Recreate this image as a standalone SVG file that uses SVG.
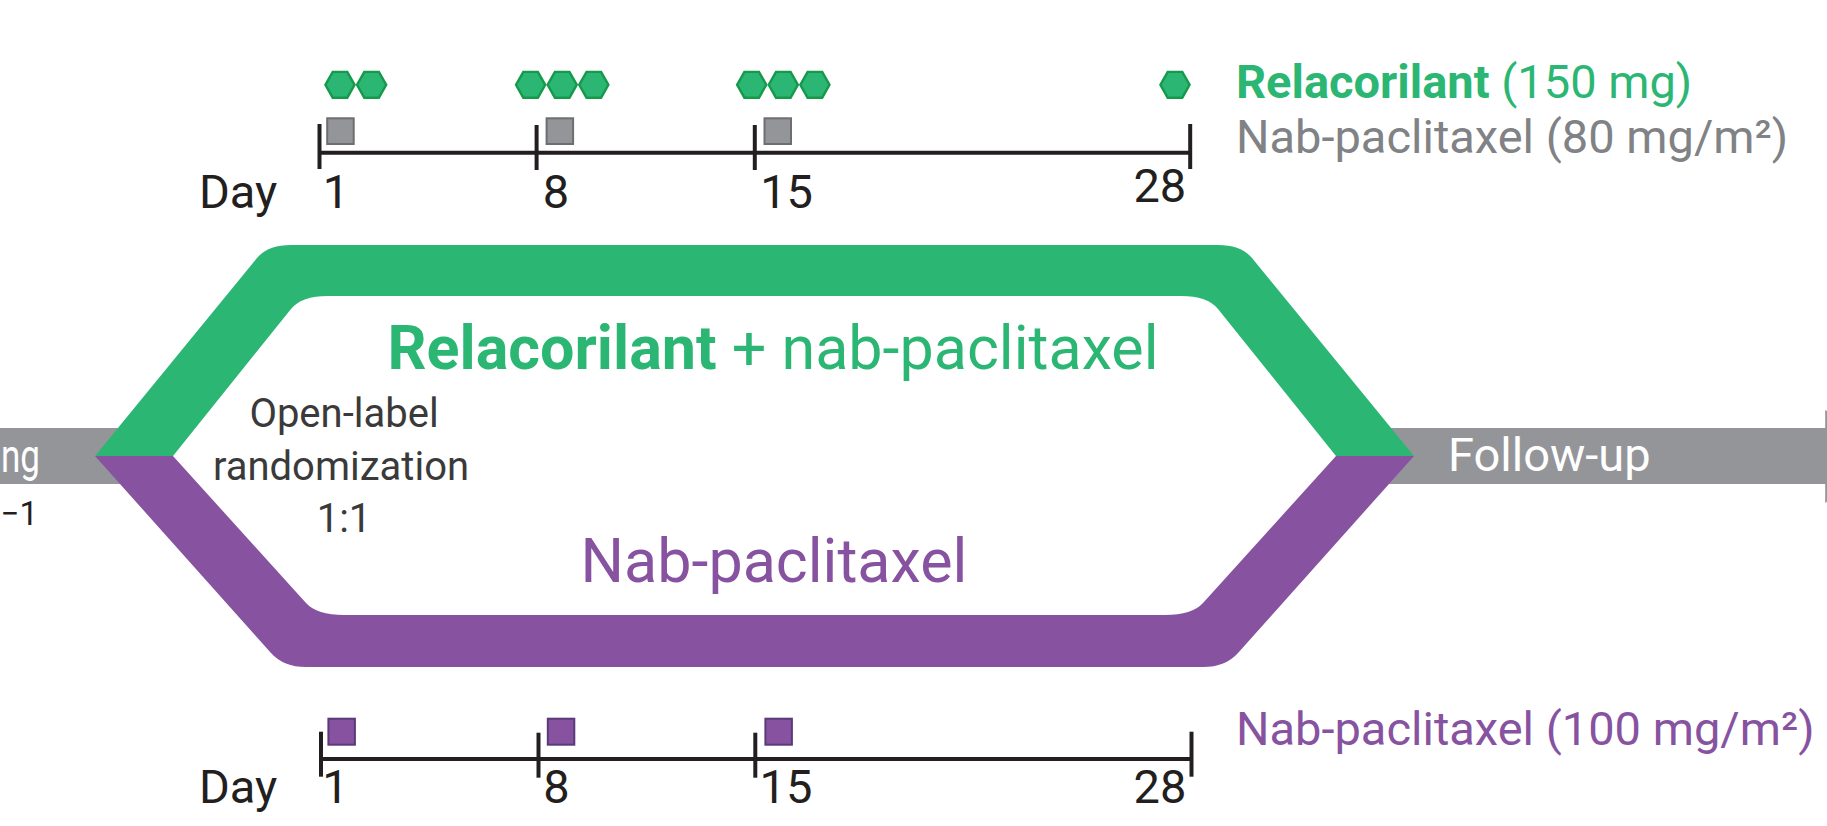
<svg xmlns="http://www.w3.org/2000/svg" xmlns:xlink="http://www.w3.org/1999/xlink" width="1827" height="826" viewBox="0 0 1827 826">
  <defs>
    <style>
      text { font-family: Roboto, "Liberation Sans", Arial, sans-serif; }
      .day { font-size: 47px; fill: #231f20; }
      .legend { font-size: 47px; }
      .big { font-size: 61px; }
      .rand { font-size: 40px; fill: #3a3a3a; }
      .bar { fill: #949599; }
      .bartext { font-size: 47px; fill: #ffffff; }
      .axis { stroke: #231f20; stroke-width: 4; fill: none; }
      .hexdose { fill: #2cb673; stroke: #159a4c; stroke-width: 2.4; stroke-linejoin: miter; }
      .sqgray { fill: #939598; stroke: #6d6e71; stroke-width: 2; }
      .sqpurple { fill: #8753a1; stroke: #5b3a78; stroke-width: 2; }
      .green { fill: #2cb673; }
      .purple { fill: #8753a1; }
      .graytext { fill: #808285; }
      .bold { font-weight: bold; }
    </style>
    <polygon id="hex" points="-14.6,0 -7.3,-12.9 7.3,-12.9 14.6,0 7.3,12.9 -7.3,12.9"/>
  </defs>

  <rect width="1827" height="826" fill="#ffffff"/>

  <!-- screening bar (left) -->
  <g id="screening">
    <rect class="bar" x="0" y="428" width="150" height="56"/>
    <text class="bartext" x="1" y="472" textLength="39" lengthAdjust="spacingAndGlyphs">ng</text>
    <text x="38" y="525" text-anchor="end" style="font-size:33px;fill:#231f20">−1</text>
  </g>

  <!-- follow-up bar (right) -->
  <g id="follow-up">
    <rect class="bar" x="1340" y="428" width="487" height="56"/>
    <polygon class="bar" points="1825.2,410 1900,456 1825.2,503"/>
    <text class="bartext" x="1448" y="471">Follow-up</text>
  </g>

  <!-- treatment arms -->
  <g id="connectors">
    <path id="arm-relacorilant" class="green" d="M95,456 L257,258 Q267.7,245 291,245 L1218,245 Q1241.3,245 1252,258 L1414,456 L1336,456 L1218,309 Q1207.6,296 1181,296 L328,296 Q301.4,296 291,309 L173,456 Z"/>
    <path id="arm-nab" class="purple" d="M95,456 L271,653 Q283.5,667 306,667 L1203,667 Q1225.5,667 1238,653 L1414,456 L1336,456 L1203,603 Q1192.1,615 1165,615 L344,615 Q316.9,615 306,603 L173,456 Z"/>
  </g>

  <g id="label-relacorilant-arm">
    <text class="big green" x="773" y="369" text-anchor="middle"><tspan class="bold">Relacorilant</tspan> + nab-paclitaxel</text>
  </g>

  <g id="label-nab-arm">
    <text class="big purple" x="774" y="582" text-anchor="middle">Nab-paclitaxel</text>
  </g>

  <g id="randomization">
    <text class="rand" x="344" y="427" text-anchor="middle">Open-label</text>
    <text class="rand" x="341" y="479.5" text-anchor="middle">randomization</text>
    <text class="rand" x="344" y="532" text-anchor="middle">1:1</text>
  </g>

  <!-- upper dosing schedule -->
  <g id="schedule-relacorilant">
    <use xlink:href="#hex" class="hexdose" x="340" y="84.8"/>
    <use xlink:href="#hex" class="hexdose" x="371.6" y="84.8"/>
    <use xlink:href="#hex" class="hexdose" x="530.6" y="84.8"/>
    <use xlink:href="#hex" class="hexdose" x="562.2" y="84.8"/>
    <use xlink:href="#hex" class="hexdose" x="593.8" y="84.8"/>
    <use xlink:href="#hex" class="hexdose" x="751.7" y="84.8"/>
    <use xlink:href="#hex" class="hexdose" x="783.3" y="84.8"/>
    <use xlink:href="#hex" class="hexdose" x="814.9" y="84.8"/>
    <use xlink:href="#hex" class="hexdose" x="1175" y="84.8"/>

    <rect class="sqgray" x="327.2" y="118.3" width="26.5" height="25.7"/>
    <rect class="sqgray" x="546.6" y="118.3" width="26.5" height="25.7"/>
    <rect class="sqgray" x="764.5" y="118.3" width="26.5" height="25.7"/>

    <line class="axis" x1="319.5" y1="152.7" x2="1190.2" y2="152.7"/>
    <line class="axis" x1="319.5" y1="124" x2="319.5" y2="169"/>
    <line class="axis" x1="536.6" y1="125" x2="536.6" y2="170"/>
    <line class="axis" x1="754.8" y1="125" x2="754.8" y2="170"/>
    <line class="axis" x1="1190.2" y1="124" x2="1190.2" y2="169"/>

    <text class="day" x="199" y="208.3">Day</text>
    <text class="day" x="336" y="208.3" text-anchor="middle">1</text>
    <text class="day" x="556" y="208.3" text-anchor="middle">8</text>
    <text class="day" x="786.6" y="208.3" text-anchor="middle">15</text>
    <text class="day" x="1159.8" y="201.7" text-anchor="middle">28</text>
  </g>

  <g id="legend-upper">
    <text class="legend green" x="1236" y="98.3"><tspan class="bold">Relacorilant</tspan> (150 mg)</text>
    <text class="legend graytext" x="1236" y="153.3">Nab-paclitaxel (80 mg/m²)</text>
  </g>

  <!-- lower dosing schedule -->
  <g id="schedule-nab">
    <rect class="sqpurple" x="328.4" y="718.7" width="26.5" height="26"/>
    <rect class="sqpurple" x="547.8" y="718.7" width="26.5" height="26"/>
    <rect class="sqpurple" x="765.4" y="718.7" width="26.5" height="26"/>

    <line class="axis" x1="321" y1="759" x2="1191.5" y2="759"/>
    <line class="axis" x1="321" y1="731.7" x2="321" y2="776.7"/>
    <line class="axis" x1="538.5" y1="732.7" x2="538.5" y2="777.7"/>
    <line class="axis" x1="755.3" y1="732.7" x2="755.3" y2="777.7"/>
    <line class="axis" x1="1191.5" y1="731.7" x2="1191.5" y2="776.7"/>

    <text class="day" x="199" y="802.7">Day</text>
    <text class="day" x="335.5" y="802.7" text-anchor="middle">1</text>
    <text class="day" x="556.4" y="802.7" text-anchor="middle">8</text>
    <text class="day" x="786" y="802.7" text-anchor="middle">15</text>
    <text class="day" x="1160" y="802.7" text-anchor="middle">28</text>
  </g>

  <g id="legend-lower">
    <text class="legend purple" x="1236" y="745">Nab-paclitaxel (100 mg/m²)</text>
  </g>
</svg>
